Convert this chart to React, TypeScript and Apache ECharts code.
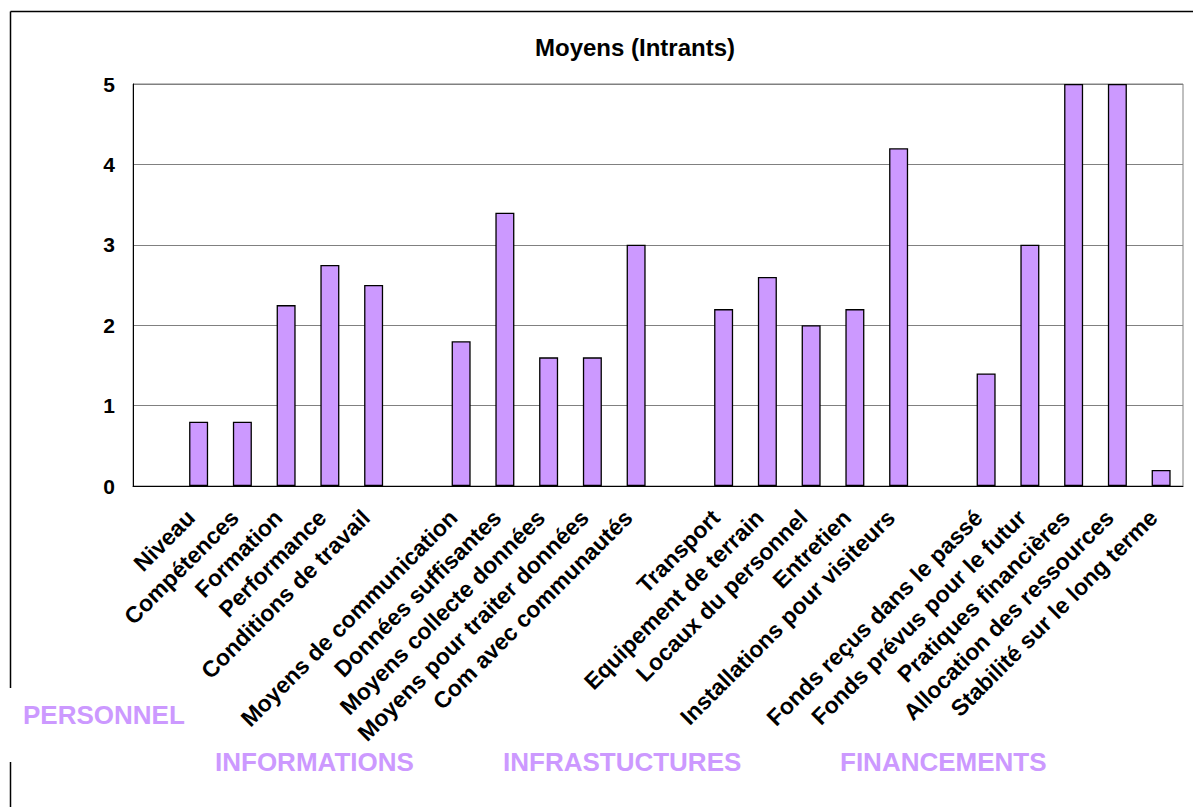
import React, { useEffect, useRef } from "react";
import * as echarts from "echarts";

const personnelCats = ["Niveau", "Compétences", "Formation", "Performance", "Conditions de travail"];
const personnelVals = [0.8, 0.8, 2.25, 2.75, 2.5];
const informationsCats = ["Moyens de communication", "Données suffisantes", "Moyens collecte données", "Moyens pour traiter données", "Com avec communautés"];
const informationsVals = [1.8, 3.4, 1.6, 1.6, 3.0];
const infraCats = ["Transport", "Equipement de terrain", "Locaux du personnel", "Entretien", "Installations pour visiteurs"];
const infraVals = [2.2, 2.6, 2.0, 2.2, 4.2];
const financeCats = ["Fonds reçus dans le passé", "Fonds prévus pour le futur", "Pratiques financières", "Allocation des ressources", "Stabilité sur le long terme"];
const financeVals = [1.4, 3.0, 5.0, 5.0, 0.2];
const groupNames = ["PERSONNEL", "INFORMATIONS", "INFRASTUCTURES", "FINANCEMENTS"];
const yTicks = [0, 1, 2, 3, 4, 5];
const title = "Moyens (Intrants)";

const FONT = '"Liberation Sans", Arial, Helvetica, sans-serif';

export default function App() {
  const ref = useRef<HTMLDivElement>(null);
  useEffect(() => {
    if (!ref.current) return;
    const chart = echarts.init(ref.current, undefined, { renderer: "svg" });
    const groups = [
      [personnelCats, personnelVals],
      [informationsCats, informationsVals],
      [infraCats, infraVals],
      [financeCats, financeVals],
    ] as [string[], number[]][];
    const categories: string[] = [];
    const values: (number | null)[] = [];
    groups.forEach(([c, v]) => {
      categories.push("");
      values.push(null);
      c.forEach((name, i) => {
        categories.push(name);
        values.push(v[i]);
      });
    });
    const groupPos = [
      { x: 23, y: 714.5 },
      { x: 215, y: 761.5 },
      { x: 503, y: 762 },
      { x: 840, y: 762 },
    ];
    chart.setOption({
      animation: false,
      backgroundColor: "#ffffff",
      title: {
        text: title,
        left: 630,
        top: 30,
        textAlign: "center",
        textStyle: { fontFamily: FONT, fontSize: 24, fontWeight: "bold", color: "#000" },
      },
      grid: {
        left: 133,
        right: 10,
        top: 84,
        bottom: 321,
        show: true,
        borderColor: "#808080",
        borderWidth: 1,
        containLabel: false,
      },
      xAxis: {
        type: "category",
        data: categories,
        axisLine: { show: true, lineStyle: { color: "#000", width: 1 } },
        axisTick: { show: false },
        axisLabel: {
          interval: 0,
          rotate: 45,
          margin: 20,
          padding: [0, 11, 0, 0],
          fontFamily: FONT,
          fontSize: 23,
          fontWeight: "bold",
          color: "#000",
        },
        splitLine: { show: false },
      },
      yAxis: {
        type: "value",
        min: yTicks[0],
        max: yTicks[yTicks.length - 1],
        interval: 1,
        axisLine: { show: true, lineStyle: { color: "#000", width: 1 } },
        axisTick: { show: false },
        axisLabel: {
          margin: 18,
          fontFamily: FONT,
          fontSize: 21,
          fontWeight: "bold",
          color: "#000",
        },
        splitLine: { show: true, lineStyle: { color: "#808080", width: 1 } },
      },
      series: [
        {
          type: "bar",
          data: values,
          barWidth: 19,
          itemStyle: { color: "#CC99FF", borderColor: "#000", borderWidth: 1.3 },
        },
      ],
      graphic: [
        { type: "line", shape: { x1: 10.5, y1: 11.5, x2: 1193, y2: 11.5 }, style: { stroke: "#000", lineWidth: 1.5 } },
        { type: "line", shape: { x1: 10.5, y1: 11.5, x2: 10.5, y2: 688 }, style: { stroke: "#000", lineWidth: 1.5 } },
        { type: "line", shape: { x1: 10.5, y1: 762, x2: 10.5, y2: 807 }, style: { stroke: "#000", lineWidth: 1.5 } },
        ...groupNames.map((g, i) => ({
          type: "text",
          x: groupPos[i].x,
          y: groupPos[i].y,
          style: {
            text: g,
            fill: "#CC99FF",
            font: `bold 26px ${FONT}`,
            textAlign: "left",
            textVerticalAlign: "middle",
          },
        })),
      ],
    });
    return () => chart.dispose();
  }, []);
  return <div ref={ref} style={{ position: "fixed", left: 0, top: 0, width: 1193, height: 807 }} />;
}
